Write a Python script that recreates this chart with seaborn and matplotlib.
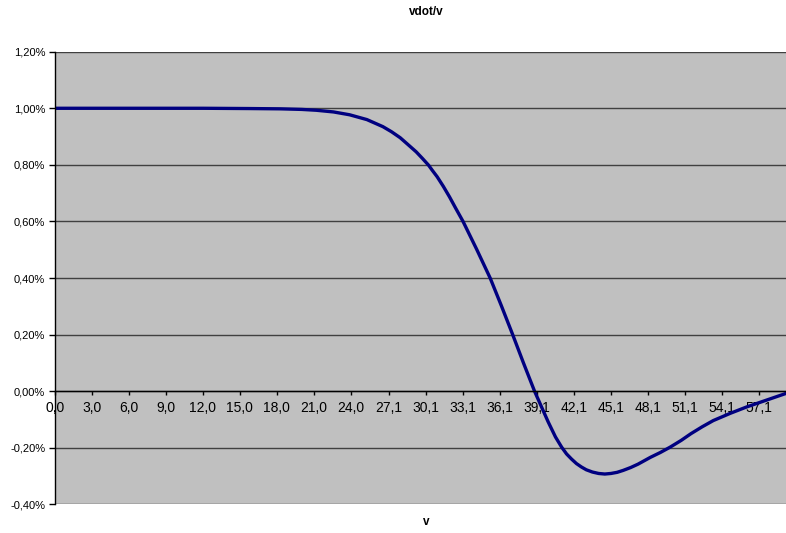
import matplotlib
matplotlib.use("Agg")
import matplotlib.pyplot as plt
import seaborn as sns
import pandas as pd

# --- data (v, vdot/v in percent) ---
v_values = [0.0, 4.0, 8.0, 12.0, 15.8, 18.3, 20.0, 21.2, 22.6, 23.9, 25.3, 26.6,
            27.3, 28.0, 28.6, 29.3, 29.8, 30.3, 30.6, 31.0, 31.5, 32.0, 32.5,
            33.1, 34.2, 35.3, 36.2, 37.1, 38.0, 38.9, 40.0, 40.6, 41.1, 41.5,
            41.9, 42.3, 42.7, 43.1, 43.6, 44.1, 44.6, 45.1, 45.6, 46.1, 46.7,
            47.3, 48.3, 49.1, 49.9, 50.8, 51.6, 52.5, 53.4, 54.8, 56.1, 57.7,
            59.3]
ratio_pct = [1.000, 1.000, 1.000, 1.000, 0.999, 0.998, 0.996, 0.993, 0.987,
             0.977, 0.960, 0.935, 0.917, 0.896, 0.873, 0.846, 0.823, 0.799,
             0.781, 0.758, 0.724, 0.687, 0.647, 0.600, 0.502, 0.400, 0.303,
             0.203, 0.100, 0.000, -0.108, -0.162, -0.198, -0.222, -0.240,
             -0.256, -0.268, -0.278, -0.286, -0.291, -0.293, -0.291, -0.287,
             -0.280, -0.270, -0.258, -0.234, -0.217, -0.198, -0.174, -0.150,
             -0.126, -0.104, -0.078, -0.056, -0.032, -0.008]
x_tick_labels = ["0,0", "3,0", "6,0", "9,0", "12,0", "15,0", "18,0", "21,0",
                 "24,0", "27,1", "30,1", "33,1", "36,1", "39,1", "42,1",
                 "45,1", "48,1", "51,1", "54,1", "57,1"]
y_ticks = [-0.40, -0.20, 0.00, 0.20, 0.40, 0.60, 0.80, 1.00, 1.20]

df = pd.DataFrame({"v": v_values, "ratio": ratio_pct})

plt.rcParams['font.family'] = ['Liberation Sans', 'DejaVu Sans']

fig = plt.figure(figsize=(7.86, 5.33), dpi=100)
ax = fig.add_axes([55 / 786, 1 - 504.3 / 533, 1 - 55 / 786, (504.3 - 51.7) / 533])
ax.set_facecolor("#C0C0C0")

sns.lineplot(data=df, x="v", y="ratio", ax=ax, color="#000080", linewidth=2.4)

ax.set_xlim(0, 59.3)
ax.set_ylim(-0.40, 1.20)

ax.set_yticks(y_ticks)
ax.set_yticklabels([("%.2f%%" % t).replace(".", ",") for t in y_ticks], fontsize=8)
xt = [float(s.replace(",", ".")) for s in x_tick_labels]
ax.set_xticks(xt)
ax.set_xticklabels(x_tick_labels, fontsize=8)

ax.grid(axis="y", color="#404040", linewidth=1.0)
ax.grid(axis="x", visible=False)
ax.set_axisbelow(True)

for s in ["top", "right"]:
    ax.spines[s].set_visible(False)
ax.spines["bottom"].set_position(("data", 0))
ax.spines["bottom"].set_color("black")
ax.spines["bottom"].set_linewidth(1.0)
ax.spines["left"].set_color("black")
ax.spines["left"].set_linewidth(1.0)
ax.tick_params(axis="x", direction="out", length=3, width=1, pad=4, colors="black")
ax.tick_params(axis="y", direction="out", length=4, width=1, pad=3, colors="black")

ax.set_xlabel("")
ax.set_ylabel("")

fig.text(426 / 786, 1 - 12 / 533, "vdot/v", ha="center", va="center",
         fontsize=8.5, fontweight="bold")
fig.text(426 / 786, 1 - 522 / 533, "v", ha="center", va="center",
         fontsize=8.5, fontweight="bold")

fig.savefig("out.png", dpi=100)
